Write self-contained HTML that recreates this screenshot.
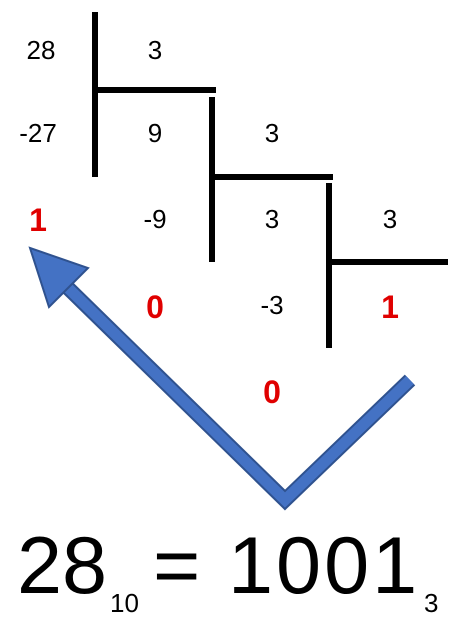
<!DOCTYPE html>
<html><head><meta charset="utf-8">
<style>
html,body{margin:0;padding:0;background:#fff;}
#wrap{position:relative;width:460px;height:632px;overflow:hidden;}
svg{position:absolute;left:0;top:0;}
</style></head>
<body>
<div id="wrap">
<svg width="460" height="632" viewBox="0 0 460 632" font-family="'Liberation Sans', sans-serif">
  <g stroke="#000" stroke-width="6" fill="none">
    <line x1="95" y1="12" x2="95" y2="177"/>
    <line x1="95" y1="90" x2="216" y2="90"/>
    <line x1="212" y1="97" x2="212" y2="262"/>
    <line x1="212" y1="177" x2="333" y2="177"/>
    <line x1="329" y1="183" x2="329" y2="348"/>
    <line x1="329" y1="262" x2="448" y2="262"/>
  </g>
  <g font-size="26" fill="#000" text-anchor="middle">
    <text x="41" y="59">28</text>
    <text x="155" y="59">3</text>
    <text x="38" y="142">-27</text>
    <text x="155" y="142">9</text>
    <text x="272" y="142">3</text>
    <text x="155" y="228">-9</text>
    <text x="272" y="228">3</text>
    <text x="390" y="228">3</text>
    <text x="272" y="314">-3</text>
  </g>
  <g font-size="32" font-weight="bold" fill="#e00000" text-anchor="middle">
    <text x="38" y="231">1</text>
    <text x="155" y="318">0</text>
    <text x="390" y="318">1</text>
    <text x="272" y="403">0</text>
  </g>
  <g>
    <polyline points="410,380 285,500 66,286" fill="none" stroke="#2f528f" stroke-width="15"/>
    <polyline points="410,380 285,500 66,286" fill="none" stroke="#4472c4" stroke-width="11"/>
    <polygon points="30,248 88,268 49,307" fill="#4472c4" stroke="#2f528f" stroke-width="2" stroke-linejoin="miter"/>
  </g>
  <g fill="#000">
    <text x="17" y="593" font-size="81">28</text>
    <text x="110" y="612" font-size="26">10</text>
    <text x="153" y="593" font-size="81">=</text>
    <text x="228" y="593" font-size="81" letter-spacing="3">1001</text>
    <text x="424" y="612" font-size="26">3</text>
  </g>
</svg>
</div>
</body></html>
